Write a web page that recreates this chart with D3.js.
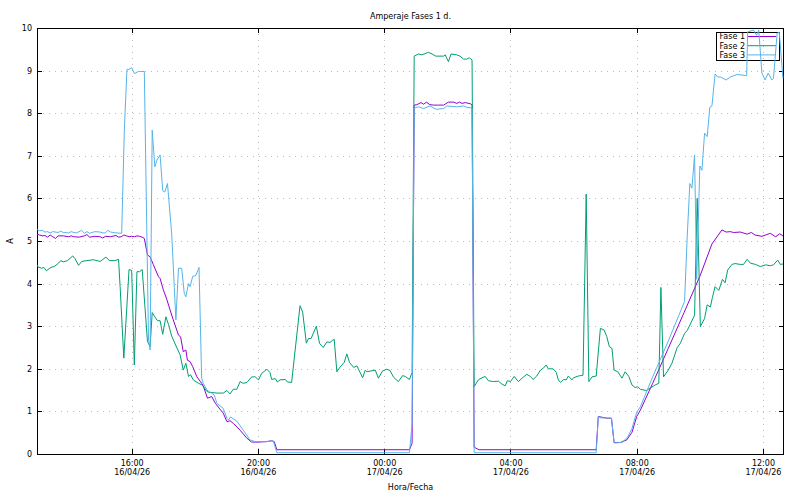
<!DOCTYPE html>
<html>
<head>
<meta charset="utf-8">
<script src="https://cdn.jsdelivr.net/npm/d3@7"></script>
<style>
  body { margin: 0; background: #fff; }
  text { font-family: "DejaVu Sans", sans-serif; font-size: 8px; fill: #000; }
</style>
</head>
<body>
<svg id="chart" width="800" height="494"></svg>
<script>
// ---------------- DATA ----------------
const chartTitle = "Amperaje Fases 1 d.";
const xAxisLabel = "Hora/Fecha";
const yAxisLabel = "A";
const seriesNames = ["Fase 1", "Fase 2", "Fase 3"];
const seriesColors = ["#9400d3", "#009e73", "#56b4e9"];
const xDomain = ["16/04/26 13:00", "17/04/26 12:40"];
const xTickTimes = ["16/04/26 16:00", "16/04/26 20:00", "17/04/26 00:00", "17/04/26 04:00", "17/04/26 08:00", "17/04/26 12:00"];
const yDomain = [0, 10];
const yTicks = [0, 1, 2, 3, 4, 5, 6, 7, 8, 9, 10];

const fase1 = [
  ["16/04/26 13:00",5.16],["16/04/26 13:05",5.14],["16/04/26 13:10",5.12],["16/04/26 13:15",5.13],["16/04/26 13:20",5.09],
  ["16/04/26 13:25",5.14],["16/04/26 13:30",5.10],["16/04/26 13:35",5.06],["16/04/26 13:40",5.12],["16/04/26 13:50",5.12],
  ["16/04/26 14:00",5.10],["16/04/26 14:05",5.12],["16/04/26 14:10",5.10],["16/04/26 14:20",5.09],["16/04/26 14:30",5.12],
  ["16/04/26 14:35",5.15],["16/04/26 14:40",5.09],["16/04/26 14:50",5.11],["16/04/26 15:00",5.10],["16/04/26 15:05",5.07],
  ["16/04/26 15:10",5.11],["16/04/26 15:20",5.10],["16/04/26 15:30",5.13],["16/04/26 15:35",5.09],["16/04/26 15:40",5.10],
  ["16/04/26 15:45",5.14],["16/04/26 15:50",5.12],["16/04/26 15:55",5.10],["16/04/26 16:00",5.11],["16/04/26 16:05",5.10],
  ["16/04/26 16:10",5.12],["16/04/26 16:15",5.11],["16/04/26 16:20",5.09],["16/04/26 16:24",5.06],["16/04/26 16:30",4.67],
  ["16/04/26 16:35",4.63],["16/04/26 16:41",4.45],["16/04/26 16:51",4.16],["16/04/26 16:54",4.12],["16/04/26 17:00",3.86],
  ["16/04/26 17:07",3.62],["16/04/26 17:13",3.38],["16/04/26 17:19",3.15],["16/04/26 17:29",2.79],["16/04/26 17:33",2.75],
  ["16/04/26 17:38",2.40],["16/04/26 17:43",2.44],["16/04/26 17:46",2.20],["16/04/26 17:51",2.17],["16/04/26 17:56",2.05],
  ["16/04/26 18:04",1.81],["16/04/26 18:13",1.66],["16/04/26 18:16",1.60],["16/04/26 18:24",1.31],["16/04/26 18:32",1.35],
  ["16/04/26 18:39",1.19],["16/04/26 18:48",1.05],["16/04/26 18:54",0.96],["16/04/26 19:01",0.76],["16/04/26 19:07",0.78],
  ["16/04/26 19:13",0.72],["16/04/26 19:26",0.56],["16/04/26 19:39",0.37],["16/04/26 19:48",0.28],["16/04/26 20:00",0.28],
  ["16/04/26 20:15",0.29],["16/04/26 20:26",0.31],["16/04/26 20:31",0.29],["16/04/26 20:36",0.10],["16/04/26 22:00",0.10],
  ["17/04/26 00:00",0.10],["17/04/26 00:48",0.10],["17/04/26 00:53",0.25],["17/04/26 00:57",8.19],["17/04/26 01:02",8.20],
  ["17/04/26 01:10",8.25],["17/04/26 01:15",8.21],["17/04/26 01:20",8.26],["17/04/26 01:27",8.20],["17/04/26 01:34",8.19],
  ["17/04/26 01:43",8.19],["17/04/26 01:53",8.19],["17/04/26 02:02",8.26],["17/04/26 02:12",8.26],["17/04/26 02:18",8.23],
  ["17/04/26 02:23",8.26],["17/04/26 02:28",8.23],["17/04/26 02:34",8.25],["17/04/26 02:44",8.22],["17/04/26 02:47",8.19],
  ["17/04/26 02:51",0.16],["17/04/26 03:00",0.10],["17/04/26 05:00",0.10],["17/04/26 06:43",0.10],["17/04/26 06:47",0.88],
  ["17/04/26 07:03",0.84],["17/04/26 07:12",0.84],["17/04/26 07:17",0.27],["17/04/26 07:29",0.27],["17/04/26 07:41",0.33],
  ["17/04/26 07:51",0.51],["17/04/26 08:00",0.88],["17/04/26 08:07",1.03],["17/04/26 08:30",1.65],["17/04/26 09:00",2.48],
  ["17/04/26 09:30",3.32],["17/04/26 10:01",4.20],["17/04/26 10:23",4.93],["17/04/26 10:42",5.26],["17/04/26 10:50",5.21],
  ["17/04/26 10:58",5.22],["17/04/26 11:04",5.20],["17/04/26 11:17",5.21],["17/04/26 11:30",5.16],["17/04/26 11:38",5.20],
  ["17/04/26 11:45",5.14],["17/04/26 11:58",5.11],["17/04/26 12:14",5.18],["17/04/26 12:24",5.10],["17/04/26 12:32",5.17],
  ["17/04/26 12:38",5.12]
];

const fase2 = [
  ["16/04/26 13:00",4.44],["16/04/26 13:02",4.39],["16/04/26 13:09",4.36],["16/04/26 13:13",4.38],["16/04/26 13:18",4.30],
  ["16/04/26 13:25",4.37],["16/04/26 13:34",4.41],["16/04/26 13:41",4.48],["16/04/26 13:45",4.54],["16/04/26 13:50",4.51],
  ["16/04/26 13:58",4.54],["16/04/26 14:08",4.65],["16/04/26 14:12",4.59],["16/04/26 14:19",4.43],["16/04/26 14:25",4.52],
  ["16/04/26 14:35",4.54],["16/04/26 14:47",4.56],["16/04/26 15:00",4.52],["16/04/26 15:11",4.62],["16/04/26 15:18",4.54],
  ["16/04/26 15:28",4.54],["16/04/26 15:35",4.57],["16/04/26 15:38",3.93],["16/04/26 15:45",2.25],["16/04/26 15:55",4.33],
  ["16/04/26 16:00",4.31],["16/04/26 16:05",2.09],["16/04/26 16:10",4.28],["16/04/26 16:15",4.28],["16/04/26 16:20",4.33],
  ["16/04/26 16:30",2.64],["16/04/26 16:35",2.52],["16/04/26 16:39",3.32],["16/04/26 16:44",3.22],["16/04/26 16:49",3.13],
  ["16/04/26 16:54",3.13],["16/04/26 16:59",2.81],["16/04/26 17:05",3.22],["16/04/26 17:10",3.04],["16/04/26 17:16",2.77],
  ["16/04/26 17:26",2.49],["16/04/26 17:32",2.33],["16/04/26 17:38",1.97],["16/04/26 17:43",2.13],["16/04/26 17:48",1.82],
  ["16/04/26 17:52",1.86],["16/04/26 17:57",1.74],["16/04/26 18:07",1.66],["16/04/26 18:14",1.62],["16/04/26 18:23",1.47],
  ["16/04/26 18:26",1.45],["16/04/26 18:42",1.43],["16/04/26 18:54",1.43],["16/04/26 19:01",1.49],["16/04/26 19:07",1.41],
  ["16/04/26 19:13",1.52],["16/04/26 19:20",1.52],["16/04/26 19:26",1.70],["16/04/26 19:32",1.66],["16/04/26 19:39",1.68],
  ["16/04/26 19:48",1.81],["16/04/26 19:55",1.81],["16/04/26 20:01",1.74],["16/04/26 20:07",1.89],["16/04/26 20:17",1.99],
  ["16/04/26 20:23",1.91],["16/04/26 20:26",1.75],["16/04/26 20:33",1.77],["16/04/26 20:37",1.69],["16/04/26 20:42",1.74],
  ["16/04/26 20:52",1.75],["16/04/26 20:56",1.69],["16/04/26 21:04",1.68],["16/04/26 21:20",3.48],["16/04/26 21:25",3.33],
  ["16/04/26 21:32",2.60],["16/04/26 21:36",2.71],["16/04/26 21:41",2.71],["16/04/26 21:51",3.00],["16/04/26 21:57",2.60],
  ["16/04/26 22:04",2.50],["16/04/26 22:11",2.63],["16/04/26 22:17",2.62],["16/04/26 22:22",2.67],["16/04/26 22:25",2.69],
  ["16/04/26 22:30",1.93],["16/04/26 22:36",2.04],["16/04/26 22:44",2.15],["16/04/26 22:49",2.35],["16/04/26 22:54",2.15],
  ["16/04/26 23:02",2.03],["16/04/26 23:08",2.07],["16/04/26 23:12",1.97],["16/04/26 23:19",1.79],["16/04/26 23:24",1.97],
  ["16/04/26 23:27",1.93],["16/04/26 23:35",1.95],["16/04/26 23:43",1.97],["16/04/26 23:49",1.78],["16/04/26 23:57",1.95],
  ["17/04/26 00:05",1.99],["17/04/26 00:11",1.96],["17/04/26 00:18",1.80],["17/04/26 00:27",1.70],["17/04/26 00:35",1.84],
  ["17/04/26 00:40",1.82],["17/04/26 00:48",1.75],["17/04/26 00:53",1.91],["17/04/26 00:57",9.34],["17/04/26 01:05",9.39],
  ["17/04/26 01:12",9.37],["17/04/26 01:24",9.43],["17/04/26 01:31",9.39],["17/04/26 01:38",9.34],["17/04/26 01:53",9.34],
  ["17/04/26 01:56",9.37],["17/04/26 02:02",9.21],["17/04/26 02:07",9.39],["17/04/26 02:18",9.37],["17/04/26 02:24",9.34],
  ["17/04/26 02:31",9.27],["17/04/26 02:37",9.27],["17/04/26 02:42",9.30],["17/04/26 02:47",9.25],["17/04/26 02:51",1.58],
  ["17/04/26 02:59",1.74],["17/04/26 03:06",1.79],["17/04/26 03:12",1.82],["17/04/26 03:18",1.72],["17/04/26 03:28",1.70],
  ["17/04/26 03:37",1.71],["17/04/26 03:44",1.64],["17/04/26 03:50",1.60],["17/04/26 03:54",1.72],["17/04/26 04:00",1.70],
  ["17/04/26 04:07",1.82],["17/04/26 04:15",1.70],["17/04/26 04:24",1.80],["17/04/26 04:31",1.87],["17/04/26 04:38",1.82],
  ["17/04/26 04:43",1.75],["17/04/26 04:50",1.83],["17/04/26 04:57",1.97],["17/04/26 05:03",2.02],["17/04/26 05:08",2.09],
  ["17/04/26 05:12",2.00],["17/04/26 05:21",2.00],["17/04/26 05:27",1.92],["17/04/26 05:31",1.74],["17/04/26 05:35",1.68],
  ["17/04/26 05:41",1.75],["17/04/26 05:46",1.74],["17/04/26 05:50",1.83],["17/04/26 05:57",1.74],["17/04/26 06:00",1.79],
  ["17/04/26 06:09",1.83],["17/04/26 06:18",1.85],["17/04/26 06:24",6.10],["17/04/26 06:29",1.70],["17/04/26 06:35",1.81],
  ["17/04/26 06:43",1.83],["17/04/26 06:51",2.95],["17/04/26 06:58",2.91],["17/04/26 07:03",2.76],["17/04/26 07:08",2.52],
  ["17/04/26 07:13",2.48],["17/04/26 07:17",1.97],["17/04/26 07:24",1.93],["17/04/26 07:32",1.78],["17/04/26 07:38",1.93],
  ["17/04/26 07:45",1.82],["17/04/26 07:51",1.62],["17/04/26 07:57",1.56],["17/04/26 08:02",1.58],["17/04/26 08:07",1.52],
  ["17/04/26 08:18",1.49],["17/04/26 08:26",1.55],["17/04/26 08:35",1.62],["17/04/26 08:42",1.66],["17/04/26 08:46",3.91],
  ["17/04/26 08:51",1.81],["17/04/26 09:00",1.97],["17/04/26 09:07",2.13],["17/04/26 09:17",2.50],["17/04/26 09:23",2.60],
  ["17/04/26 09:31",2.83],["17/04/26 09:36",2.90],["17/04/26 09:42",3.05],["17/04/26 09:50",3.26],["17/04/26 09:55",6.00],
  ["17/04/26 10:01",2.99],["17/04/26 10:09",3.18],["17/04/26 10:14",3.50],["17/04/26 10:20",3.45],["17/04/26 10:24",3.68],
  ["17/04/26 10:29",3.93],["17/04/26 10:36",3.84],["17/04/26 10:43",4.10],["17/04/26 10:48",4.02],["17/04/26 10:53",4.32],
  ["17/04/26 11:01",4.45],["17/04/26 11:07",4.47],["17/04/26 11:17",4.45],["17/04/26 11:23",4.45],["17/04/26 11:30",4.57],
  ["17/04/26 11:36",4.48],["17/04/26 11:46",4.45],["17/04/26 11:55",4.40],["17/04/26 12:05",4.44],["17/04/26 12:14",4.42],
  ["17/04/26 12:20",4.44],["17/04/26 12:28",4.55],["17/04/26 12:33",4.45],["17/04/26 12:38",4.46]
];

const fase3 = [
  ["16/04/26 13:00",5.27],["16/04/26 13:05",5.24],["16/04/26 13:10",5.25],["16/04/26 13:15",5.21],["16/04/26 13:20",5.22],
  ["16/04/26 13:25",5.19],["16/04/26 13:30",5.22],["16/04/26 13:40",5.20],["16/04/26 13:45",5.23],["16/04/26 13:50",5.20],
  ["16/04/26 14:00",5.19],["16/04/26 14:05",5.22],["16/04/26 14:10",5.20],["16/04/26 14:15",5.19],["16/04/26 14:25",5.25],
  ["16/04/26 14:30",5.18],["16/04/26 14:35",5.22],["16/04/26 14:40",5.18],["16/04/26 14:50",5.22],["16/04/26 15:00",5.21],
  ["16/04/26 15:05",5.19],["16/04/26 15:10",5.19],["16/04/26 15:15",5.25],["16/04/26 15:20",5.21],["16/04/26 15:30",5.19],
  ["16/04/26 15:41",5.18],["16/04/26 15:46",7.60],["16/04/26 15:51",9.03],["16/04/26 15:55",9.03],["16/04/26 16:00",9.07],
  ["16/04/26 16:05",8.93],["16/04/26 16:13",8.98],["16/04/26 16:17",8.98],["16/04/26 16:24",8.98],["16/04/26 16:32",2.68],
  ["16/04/26 16:35",2.44],["16/04/26 16:39",7.60],["16/04/26 16:44",6.74],["16/04/26 16:48",6.90],["16/04/26 16:54",7.02],
  ["16/04/26 16:59",6.18],["16/04/26 17:03",6.15],["16/04/26 17:08",6.35],["16/04/26 17:16",5.18],["16/04/26 17:21",3.91],
  ["16/04/26 17:24",3.15],["16/04/26 17:29",4.36],["16/04/26 17:35",4.36],["16/04/26 17:40",3.77],["16/04/26 17:43",3.69],
  ["16/04/26 17:48",4.00],["16/04/26 17:51",3.93],["16/04/26 17:56",4.17],["16/04/26 18:02",4.19],["16/04/26 18:08",4.38],
  ["16/04/26 18:13",1.78],["16/04/26 18:16",1.66],["16/04/26 18:23",1.50],["16/04/26 18:32",1.43],["16/04/26 18:37",1.38],
  ["16/04/26 18:42",1.19],["16/04/26 18:54",1.07],["16/04/26 19:01",0.84],["16/04/26 19:04",0.80],["16/04/26 19:08",0.87],
  ["16/04/26 19:20",0.77],["16/04/26 19:32",0.56],["16/04/26 19:45",0.33],["16/04/26 19:55",0.29],["16/04/26 20:17",0.29],
  ["16/04/26 20:29",0.31],["16/04/26 20:36",0.03],["16/04/26 22:00",0.03],["17/04/26 00:00",0.03],["17/04/26 00:48",0.03],
  ["17/04/26 00:53",0.70],["17/04/26 00:57",8.12],["17/04/26 01:05",8.15],["17/04/26 01:15",8.11],["17/04/26 01:27",8.17],
  ["17/04/26 01:39",8.09],["17/04/26 01:53",8.11],["17/04/26 01:59",8.17],["17/04/26 02:18",8.15],["17/04/26 02:31",8.17],
  ["17/04/26 02:37",8.14],["17/04/26 02:47",8.12],["17/04/26 02:51",0.03],["17/04/26 05:00",0.03],["17/04/26 06:43",0.03],
  ["17/04/26 06:47",0.88],["17/04/26 06:51",0.85],["17/04/26 07:12",0.84],["17/04/26 07:17",0.26],["17/04/26 07:32",0.27],
  ["17/04/26 07:43",0.40],["17/04/26 07:51",0.60],["17/04/26 08:00",0.98],["17/04/26 08:07",1.11],["17/04/26 08:30",1.80],
  ["17/04/26 09:00",2.65],["17/04/26 09:20",3.25],["17/04/26 09:31",3.58],["17/04/26 09:36",5.10],["17/04/26 09:41",6.35],
  ["17/04/26 09:45",6.24],["17/04/26 09:50",7.02],["17/04/26 09:54",4.10],["17/04/26 10:00",6.76],["17/04/26 10:04",6.66],
  ["17/04/26 10:09",7.53],["17/04/26 10:14",7.45],["17/04/26 10:19",8.14],["17/04/26 10:23",8.17],["17/04/26 10:29",8.92],
  ["17/04/26 10:34",8.85],["17/04/26 10:39",8.85],["17/04/26 10:50",8.78],["17/04/26 10:58",8.85],["17/04/26 11:11",8.91],
  ["17/04/26 11:29",8.88],["17/04/26 11:31",9.91],["17/04/26 11:42",9.95],["17/04/26 11:48",9.83],["17/04/26 11:52",9.95],
  ["17/04/26 11:58",8.94],["17/04/26 12:04",8.78],["17/04/26 12:10",8.94],["17/04/26 12:17",8.78],["17/04/26 12:20",8.82],
  ["17/04/26 12:27",9.88],["17/04/26 12:31",9.90],["17/04/26 12:38",8.82]
];

const seriesData = [fase1, fase2, fase3];

// ---------------- CHART ----------------
const plot = { left: 37, right: 784, top: 28, bottom: 454 };
const parse = d3.timeParse("%d/%m/%y %H:%M");
const fmtHour = d3.timeFormat("%H:%M");
const fmtDate = d3.timeFormat("%d/%m/%y");

const x = d3.scaleTime().domain(xDomain.map(parse)).range([plot.left, plot.right]);
const y = d3.scaleLinear().domain(yDomain).range([plot.bottom, plot.top]);
const xt = xTickTimes.map(parse);

const svg = d3.select("#chart");

// grid
const grid = svg.append("g").attr("stroke", "#bdbdbd").attr("stroke-width", 1)
  .attr("stroke-dasharray", "1,5").attr("shape-rendering", "crispEdges");
grid.selectAll("line.h").data(yTicks.filter(v => v > yDomain[0] && v < yDomain[1])).enter()
  .append("line").attr("x1", plot.left + 6).attr("x2", plot.right)
  .attr("y1", d => Math.round(y(d)) + 0.5).attr("y2", d => Math.round(y(d)) + 0.5);
grid.selectAll("line.v").data(xt).enter()
  .append("line").attr("y1", plot.top).attr("y2", plot.bottom)
  .attr("x1", d => Math.round(x(d)) + 0.5).attr("x2", d => Math.round(x(d)) + 0.5);

// axes
const axL = svg.append("g").attr("transform", `translate(${plot.left},0)`)
  .call(d3.axisLeft(y).tickValues(yTicks).tickSize(-5).tickSizeOuter(0).tickPadding(5).tickFormat(d3.format("d")));
const axR = svg.append("g").attr("transform", `translate(${plot.right},0)`)
  .call(d3.axisRight(y).tickValues(yTicks).tickSize(-5).tickSizeOuter(0).tickFormat(""));
const axB = svg.append("g").attr("transform", `translate(0,${plot.bottom})`)
  .call(d3.axisBottom(x).tickValues(xt).tickSize(-5).tickSizeOuter(0).tickPadding(6).tickFormat(fmtHour));
const axT = svg.append("g").attr("transform", `translate(0,${plot.top})`)
  .call(d3.axisTop(x).tickValues(xt).tickSize(-5).tickSizeOuter(0).tickFormat(""));
[axL, axR, axB, axT].forEach(g => {
  g.select(".domain").remove();
  g.attr("font-family", null).attr("font-size", null);
  g.selectAll(".tick line").attr("shape-rendering", "crispEdges").attr("stroke", "#000");
});
axB.selectAll(".tick text").each(function (d) {
  const t = d3.select(this);
  t.text(null);
  t.append("tspan").attr("x", 0).attr("dy", "0.71em").text(fmtHour(d));
  t.append("tspan").attr("x", 0).attr("dy", "9.3px").text(fmtDate(d));
});

// border
svg.append("rect").attr("x", plot.left + 0.5).attr("y", plot.top + 0.5)
  .attr("width", plot.right - plot.left - 1).attr("height", plot.bottom - plot.top)
  .attr("fill", "none").attr("stroke", "#000").attr("stroke-width", 1).attr("shape-rendering", "crispEdges");

// legend
const leg = svg.append("g");
leg.append("rect").attr("x", 716.5).attr("y", 32.5).attr("width", 63).attr("height", 28)
  .attr("fill", "none").attr("stroke", "#000").attr("shape-rendering", "crispEdges");
seriesNames.forEach((name, i) => {
  const ry = 36.5 + i * 9.2;
  leg.append("text").attr("x", 745).attr("y", ry).attr("dy", "0.35em").attr("text-anchor", "end").text(name);
  leg.append("line").attr("x1", 748).attr("x2", 776).attr("y1", ry).attr("y2", ry)
    .attr("stroke", seriesColors[i]).attr("stroke-width", 1);
});

// lines
const line = d3.line().x(d => x(parse(d[0]))).y(d => y(d[1]));
svg.append("clipPath").attr("id", "clip").append("rect")
  .attr("x", plot.left).attr("y", plot.top - 2).attr("width", plot.right - plot.left).attr("height", plot.bottom - plot.top + 2);
seriesData.forEach((data, i) => {
  svg.append("path").datum(data).attr("d", line).attr("fill", "none")
    .attr("stroke", seriesColors[i]).attr("stroke-width", 1).attr("stroke-linejoin", "round")
    .attr("clip-path", "url(#clip)");
});

// titles
svg.append("text").attr("x", (plot.left + plot.right) / 2).attr("y", 18.5).attr("text-anchor", "middle").text(chartTitle);
svg.append("text").attr("x", (plot.left + plot.right) / 2).attr("y", 490).attr("text-anchor", "middle").text(xAxisLabel);
svg.append("text").attr("transform", `translate(12.5,${(plot.top + plot.bottom) / 2}) rotate(-90)`)
  .attr("text-anchor", "middle").text(yAxisLabel);
</script>
</body>
</html>
